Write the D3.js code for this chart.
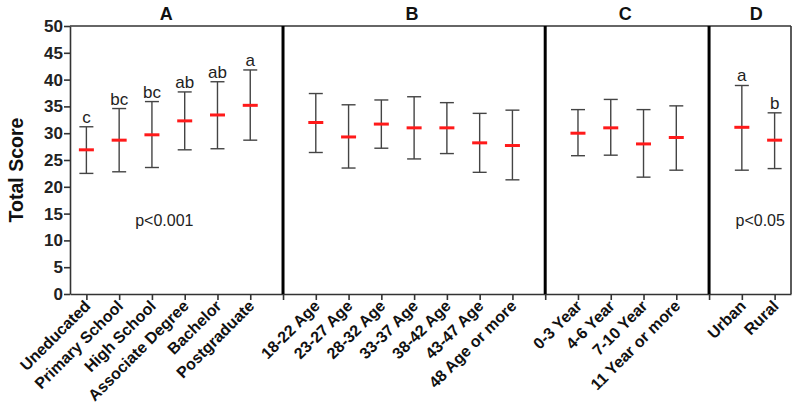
<!DOCTYPE html>
<html><head><meta charset="utf-8">
<script src="https://cdn.jsdelivr.net/npm/d3@7"></script>
<style>body{margin:0;background:#fff}svg{display:block;font-family:"Liberation Sans",Arial,sans-serif}</style>
</head><body><svg id="c" width="800" height="412"></svg>
<script>
// Data
const groups = ["A","B","C","D"];
const catsA = ["Uneducated","Primary School","High School","Associate Degree","Bachelor","Postgraduate"];
const catsB = ["18-22 Age","23-27 Age","28-32 Age","33-37 Age","38-42 Age","43-47 Age","48 Age or more"];
const catsC = ["0-3 Year","4-6 Year","7-10 Year","11 Year or more"];
const catsD = ["Urban","Rural"];
const meanA = [26.9,28.7,29.7,32.3,33.4,35.2];
const upA   = [31.2,34.6,35.9,37.7,39.6,41.8];
const lowA  = [22.5,22.8,23.6,26.9,27.1,28.7];
const letA  = ["c","bc","bc","ab","ab","a"];
const meanB = [32.0,29.3,31.7,31.0,31.0,28.2,27.7];
const upB   = [37.4,35.3,36.2,36.8,35.7,33.7,34.3];
const lowB  = [26.4,23.5,27.2,25.2,26.2,22.7,21.3];
const meanC = [30.0,31.0,28.0,29.2];
const upC   = [34.4,36.3,34.4,35.1];
const lowC  = [25.8,25.9,21.8,23.1];
const meanD = [31.1,28.7];
const upD   = [38.9,33.8];
const lowD  = [23.1,23.4];
const letD  = ["a","b"];
const pTexts = ["p<0.001","","","p<0.05"];
const yTicks = [0,5,10,15,20,25,30,35,40,45,50];

const groupData = [
  {name:groups[0],cats:catsA,mean:meanA,up:upA,low:lowA,let:letA,p:pTexts[0]},
  {name:groups[1],cats:catsB,mean:meanB,up:upB,low:lowB,let:null,p:pTexts[1]},
  {name:groups[2],cats:catsC,mean:meanC,up:upC,low:lowC,let:null,p:pTexts[2]},
  {name:groups[3],cats:catsD,mean:meanD,up:upD,low:lowD,let:letD,p:pTexts[3]}
];
let idx = 1; const points = []; const dividers = []; const groupSpans = [];
groupData.forEach((g,gi)=>{
  const first = idx;
  g.cats.forEach((c,i)=>{
    points.push({cat:c,x:idx,mean:g.mean[i],up:g.up[i],low:g.low[i],let:g.let?g.let[i]:""});
    idx++;
  });
  groupSpans.push({name:g.name,p:g.p,first:first,last:idx-1});
  if (gi<groupData.length-1) dividers.push(idx);
  idx++;
});
const xMax = idx-1.5;

const svg = d3.select("#c");
const x = d3.scaleLinear().domain([0.5,xMax]).range([70,791]);
const y = d3.scaleLinear().domain([0,50]).range([294,26]);

// y axis
const yAxis = svg.append("g").attr("transform","translate(70,0)")
  .call(d3.axisLeft(y).tickValues(yTicks).tickSize(6).tickSizeOuter(0));
yAxis.select(".domain").attr("stroke","#333").attr("stroke-width",1.6);
yAxis.selectAll(".tick line").attr("stroke","#333").attr("stroke-width",1.6);
yAxis.selectAll(".tick text").attr("font-size",17).attr("font-weight","bold").attr("fill","#222").attr("x",-7);

// x axis
const xTickVals = points.map(p=>p.x).concat(dividers);
const xAxis = svg.append("g").attr("transform","translate(0,294)")
  .call(d3.axisBottom(x).tickValues(xTickVals).tickSize(6).tickSizeOuter(0).tickFormat(""));
xAxis.select(".domain").attr("stroke","#333").attr("stroke-width",1.6);
xAxis.selectAll(".tick line").attr("stroke","#333").attr("stroke-width",1.6);

// top line and right border
svg.append("line").attr("x1",x(0.5)).attr("x2",x(xMax)).attr("y1",y(50)).attr("y2",y(50)).attr("stroke","#333").attr("stroke-width",1.6);
svg.append("line").attr("x1",x(xMax)).attr("x2",x(xMax)).attr("y1",y(50)).attr("y2",y(0)).attr("stroke","#333").attr("stroke-width",1.6);
// dividers
svg.selectAll(".div").data(dividers).enter().append("line")
  .attr("x1",d=>x(d)).attr("x2",d=>x(d)).attr("y1",y(50)).attr("y2",y(0))
  .attr("stroke","#000").attr("stroke-width",3);

// x labels
svg.selectAll(".xl").data(points).enter().append("text")
  .attr("transform",d=>`translate(${x(d.x)+5},${307}) rotate(-45)`)
  .attr("text-anchor","end").attr("font-size",16).attr("font-weight","bold").attr("fill","#111")
  .text(d=>d.cat);

// group titles
svg.selectAll(".gt").data(groupSpans).enter().append("text")
  .attr("x",d=>(x(d.first)+x(d.last))/2 - 2).attr("y",20)
  .attr("text-anchor","middle").attr("font-size",18).attr("font-weight","bold").attr("fill","#111")
  .text(d=>d.name);

// p texts
svg.selectAll(".pt").data(groupSpans.filter(d=>d.p)).enter().append("text")
  .attr("x",(d,i)=> i===0 ? (x(d.first)+x(d.last))/2 - 4 : (x(d.first)+x(d.last))/2 + 2)
  .attr("y",y(13.8)+6).attr("text-anchor","middle").attr("font-size",16).attr("fill","#222")
  .text(d=>d.p);

// y label
svg.append("text").attr("transform",`translate(23,170) rotate(-90)`)
  .attr("text-anchor","middle").attr("font-size",19.5).attr("font-weight","bold").attr("fill","#111")
  .text("Total Score");

// error bars
const capW = 7;
const eb = svg.selectAll(".eb").data(points).enter().append("g");
eb.append("line").attr("x1",d=>x(d.x)).attr("x2",d=>x(d.x)).attr("y1",d=>y(d.up)).attr("y2",d=>y(d.low))
  .attr("stroke","#444").attr("stroke-width",1.4);
eb.append("line").attr("x1",d=>x(d.x)-capW).attr("x2",d=>x(d.x)+capW).attr("y1",d=>y(d.up)).attr("y2",d=>y(d.up))
  .attr("stroke","#444").attr("stroke-width",1.4);
eb.append("line").attr("x1",d=>x(d.x)-capW).attr("x2",d=>x(d.x)+capW).attr("y1",d=>y(d.low)).attr("y2",d=>y(d.low))
  .attr("stroke","#444").attr("stroke-width",1.4);
eb.append("line").attr("x1",d=>x(d.x)-7.5).attr("x2",d=>x(d.x)+7.5).attr("y1",d=>y(d.mean)).attr("y2",d=>y(d.mean))
  .attr("stroke","#ff1a1a").attr("stroke-width",3);
eb.filter(d=>d.let).append("text").attr("x",d=>x(d.x)).attr("y",d=>y(d.up)-4)
  .attr("text-anchor","middle").attr("font-size",17).attr("fill","#222").text(d=>d.let);
</script></body></html>
